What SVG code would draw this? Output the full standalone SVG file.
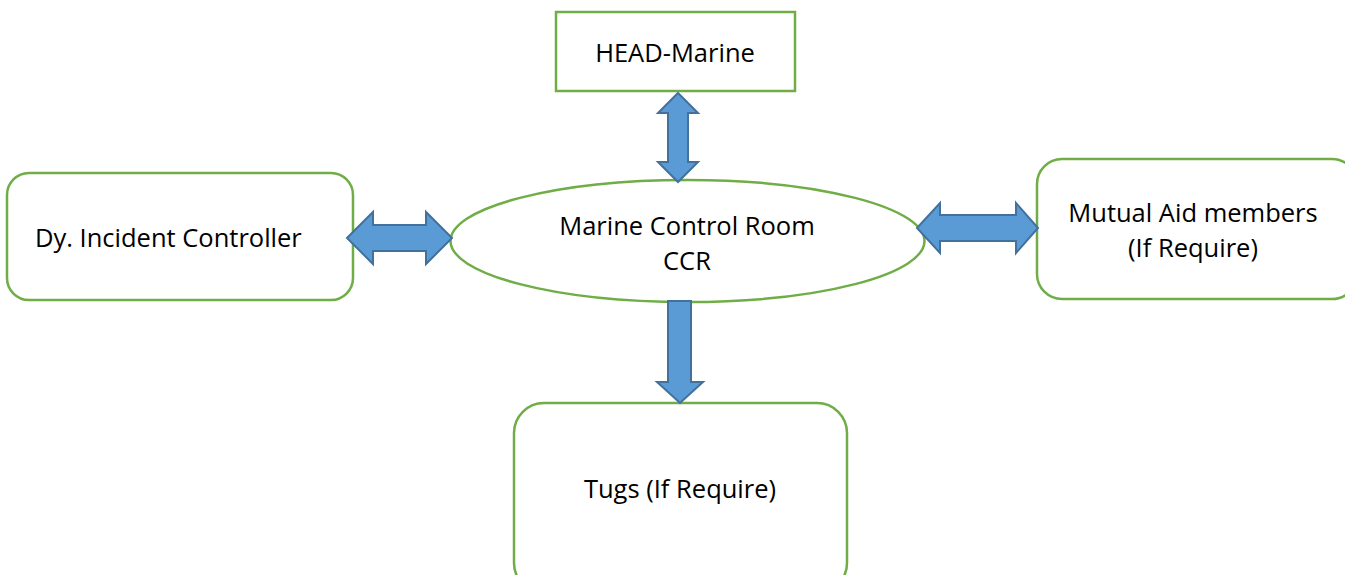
<svg xmlns="http://www.w3.org/2000/svg" width="1345" height="575" viewBox="0 0 1345 575">
<style>
.box{fill:#fff;stroke:#70AD47;stroke-width:2.5}
.arr{fill:#5B9BD5;stroke:#41719C;stroke-width:2;stroke-linejoin:miter}
.t{font-family:"Open Sans","Liberation Sans",sans-serif;font-size:25.5px;fill:#000}
</style>
<rect width="1345" height="575" fill="#fff"/>
<g id="head-marine">
<rect class="box" x="556" y="12" width="239" height="79"/>
<text class="t" x="675" y="62" text-anchor="middle">HEAD-Marine</text>
</g>
<g id="ccr">
<ellipse class="box" cx="687.5" cy="241" rx="237" ry="61"/>
<text class="t" x="687" y="235" text-anchor="middle">Marine Control Room</text>
<text class="t" x="687" y="270" text-anchor="middle">CCR</text>
</g>
<g id="dy-incident">
<rect class="box" x="7" y="173" width="346" height="127" rx="22"/>
<text class="t" x="35" y="247">Dy. Incident Controller</text>
</g>
<g id="mutual-aid">
<rect class="box" x="1037" y="159" width="320" height="140" rx="25"/>
<text class="t" x="1193" y="222" text-anchor="middle">Mutual Aid members</text>
<text class="t" x="1193" y="257" text-anchor="middle">(If Require)</text>
</g>
<g id="tugs">
<rect class="box" x="514" y="403" width="333" height="190" rx="30"/>
<text class="t" x="680" y="498" text-anchor="middle">Tugs (If Require)</text>
</g>
<g id="connectors">
<polygon class="arr" points="678,93 698,113 688,113 688,162 698,162 678,182 658,162 668,162 668,113 658,113"/>
<polygon class="arr" points="347,238 373,212 373,225 426,225 426,212 452,238 426,264 426,251 373,251 373,264"/>
<polygon class="arr" points="917,228 940,203 940,215 1016,215 1016,203 1038,228 1016,253 1016,241 940,241 940,253"/>
<polygon class="arr" points="668,301 691,301 691,382 703,382 680,403 657,382 668,382"/>
</g>
</svg>
